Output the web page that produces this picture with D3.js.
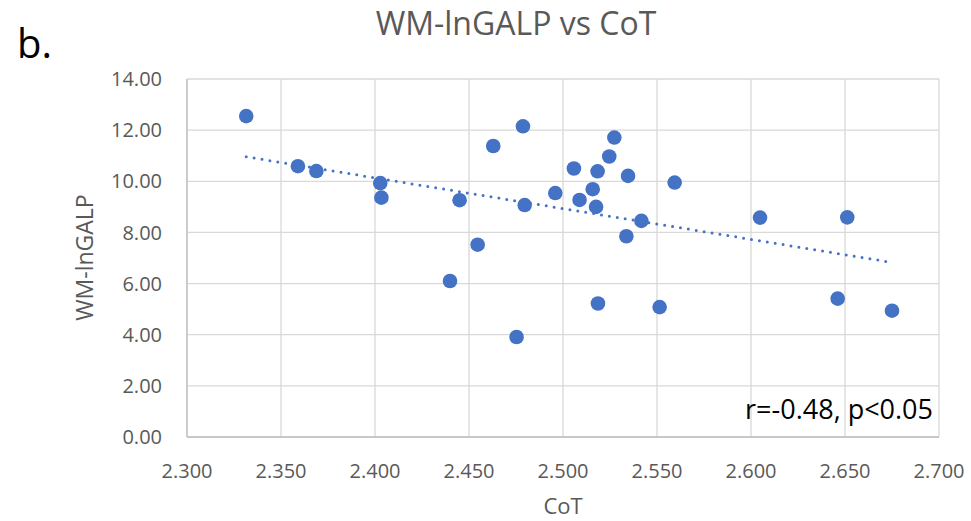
<html>
<head>
<meta charset="utf-8">
<script src="https://cdn.jsdelivr.net/npm/d3@7"></script>
<style>
  body { margin: 0; background: #fff; }
  svg { display: block; font-family: "Open Sans", sans-serif; }
</style>
</head>
<body>
<div id="chart"></div>
<script>
// CoT values (x) and WM-lnGALP values (y)
const cot = [
  2.3315, 2.359, 2.3688, 2.4028, 2.4034, 2.445, 2.4546, 2.4399,
  2.4629, 2.4787, 2.4796, 2.4959, 2.5058, 2.5088, 2.5158, 2.5176,
  2.5184, 2.5246, 2.5273, 2.5346, 2.5417, 2.5337, 2.5594, 2.6048,
  2.6512, 2.4753, 2.5186, 2.5514, 2.6461, 2.675
];
const galp = [
  12.55, 10.59, 10.40, 9.93, 9.36, 9.26, 7.52, 6.10,
  11.38, 12.15, 9.07, 9.54, 10.50, 9.27, 9.69, 9.00,
  10.39, 10.97, 11.71, 10.21, 8.45, 7.85, 9.95, 8.58,
  8.59, 3.91, 5.22, 5.08, 5.41, 4.94
];
const xTicks = [2.3, 2.35, 2.4, 2.45, 2.5, 2.55, 2.6, 2.65, 2.7];
const yTicks = [0, 2, 4, 6, 8, 10, 12, 14];
const chartTitle = "WM-lnGALP vs CoT";
const panelLabel = "b.";
const statsText = "r=-0.48, p<0.05";

const width = 971, height = 521;
const margin = { top: 79, right: 32, bottom: 84, left: 187 };

const svg = d3.select("#chart").append("svg")
  .attr("width", width).attr("height", height);

const x = d3.scaleLinear().domain([2.3, 2.7]).range([margin.left, width - margin.right]);
const y = d3.scaleLinear().domain([0, 14]).range([height - margin.bottom, margin.top]);

// gridlines
svg.append("g").selectAll("line.v").data(xTicks).join("line")
  .attr("x1", d => x(d)).attr("x2", d => x(d))
  .attr("y1", y(0)).attr("y2", y(14))
  .attr("stroke", "#d9d9d9").attr("stroke-width", 1.3);
svg.append("g").selectAll("line.h").data(yTicks).join("line")
  .attr("x1", x(2.3)).attr("x2", x(2.7))
  .attr("y1", d => y(d)).attr("y2", d => y(d))
  .attr("stroke", "#d9d9d9").attr("stroke-width", 1.3);

// axis lines
svg.append("line").attr("x1", x(2.3)).attr("x2", x(2.7)).attr("y1", y(0)).attr("y2", y(0))
  .attr("stroke", "#bfbfbf").attr("stroke-width", 1.3);
svg.append("line").attr("x1", x(2.3)).attr("x2", x(2.3)).attr("y1", y(0)).attr("y2", y(14))
  .attr("stroke", "#bfbfbf").attr("stroke-width", 1.3);

// tick labels
svg.append("g").selectAll("text").data(yTicks).join("text")
  .attr("x", margin.left - 25).attr("y", d => y(d)).attr("dy", "0.36em")
  .attr("text-anchor", "end").attr("font-size", 20).attr("fill", "#595959")
  .text(d => d3.format(".2f")(d));
svg.append("g").selectAll("text").data(xTicks).join("text")
  .attr("x", d => x(d)).attr("y", y(0) + 41)
  .attr("text-anchor", "middle").attr("font-size", 20).attr("fill", "#595959")
  .text(d => d3.format(".3f")(d));

// axis titles
svg.append("text").attr("x", x(2.5)).attr("y", 514)
  .attr("text-anchor", "middle").attr("font-size", 22).attr("fill", "#595959").text("CoT");
svg.append("text").attr("transform", "translate(93,257.5) rotate(-90)")
  .attr("text-anchor", "middle").attr("font-size", 23).attr("fill", "#595959").text("WM-lnGALP");

// title and panel label
svg.append("text").attr("x", 516).attr("y", 35)
  .attr("text-anchor", "middle").attr("font-size", 32).attr("fill", "#595959").text(chartTitle);
svg.append("text").attr("x", 17).attr("y", 58)
  .attr("font-size", 40).attr("fill", "#000").text(panelLabel);

// linear trendline (least squares)
const mx = d3.mean(cot), my = d3.mean(galp);
const slope = d3.sum(cot, (d, i) => (d - mx) * (galp[i] - my)) / d3.sum(cot, d => (d - mx) ** 2);
const icpt = my - slope * mx;
const [x0, x1] = d3.extent(cot);
svg.append("line")
  .attr("x1", x(x0)).attr("y1", y(icpt + slope * x0))
  .attr("x2", x(x1)).attr("y2", y(icpt + slope * x1))
  .attr("stroke", "#4472c4").attr("stroke-width", 3)
  .attr("stroke-linecap", "round").attr("stroke-dasharray", "0,8");

// points
svg.append("g").selectAll("circle").data(cot).join("circle")
  .attr("cx", d => x(d)).attr("cy", (d, i) => y(galp[i])).attr("r", 7.3)
  .attr("fill", "#4472c4");

// stats label
svg.append("text").attr("x", 933).attr("y", 419)
  .attr("text-anchor", "end").attr("font-size", 27).attr("fill", "#000").text(statsText);
</script>
</body>
</html>
